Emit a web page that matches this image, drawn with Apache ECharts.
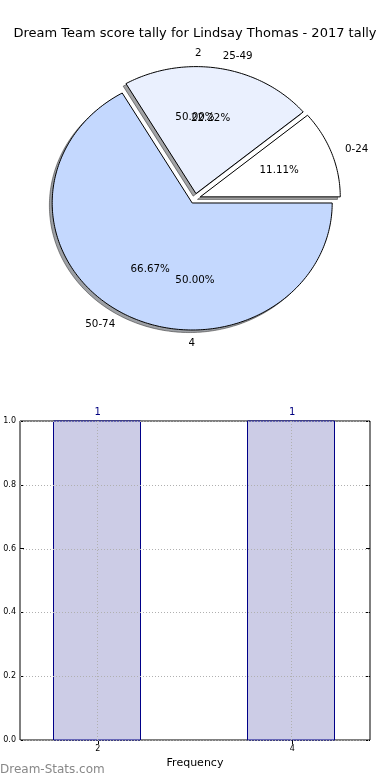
<!DOCTYPE html>
<html><head><meta charset="utf-8">
<script src="https://cdn.jsdelivr.net/npm/echarts@6/dist/echarts.min.js"></script>
<style>html,body{margin:0;padding:0;background:#fff}#c{width:390px;height:780px}</style>
</head><body><div id="c"></div>
<script>
const chartTitle = 'Dream Team score tally for Lindsay Thomas - 2017 tally';
const pieLabels = ['0-24', '25-49', '50-74'];
const pieValues = [1, 2, 6];
const pieColors = ['#ffffff', '#eaf0fe', '#c4d8fe'];
const freqLabels = ['2', '4'];
const freqValues = [1, 1];
const barX = [2, 4];
const barY = [1, 1];
const yTicks = [0.0, 0.2, 0.4, 0.6, 0.8, 1.0];
const xAxisName = 'Frequency';
const watermark = 'Dream-Stats.com';

const FONT = 'DejaVu Sans';
const EXPLODE = 0.04;

function wedgeGeom(values, i) {
  const total = values.reduce((a, b) => a + b, 0);
  let s = 0; for (let k = 0; k < i; k++) s += values[k];
  const t1 = s / total * 2 * Math.PI, t2 = (s + values[i]) / total * 2 * Math.PI;
  const mid = (t1 + t2) / 2;
  return { t1, t2, mid, cx: EXPLODE * Math.cos(mid), cy: EXPLODE * Math.sin(mid), frac: values[i] / total };
}
function wedgePoints(api, g, ox, oy) {
  const pts = [api.coord([g.cx + ox, g.cy + oy])];
  const n = Math.max(2, Math.ceil((g.t2 - g.t1) / (Math.PI / 180)));
  for (let k = 0; k <= n; k++) {
    const t = g.t1 + (g.t2 - g.t1) * k / n;
    pts.push(api.coord([g.cx + ox + Math.cos(t), g.cy + oy + Math.sin(t)]));
  }
  return pts;
}
function shadowColor(hex) {
  const r = parseInt(hex.slice(1, 3), 16), g = parseInt(hex.slice(3, 5), 16), b = parseInt(hex.slice(5, 7), 16);
  return 'rgba(' + Math.round(r * 0.3) + ',' + Math.round(g * 0.3) + ',' + Math.round(b * 0.3) + ',0.5)';
}
function pieTexts(values, labels, api, i) {
  const g = wedgeGeom(values, i);
  const lx = g.cx + 1.1 * Math.cos(g.mid), ly = g.cy + 1.1 * Math.sin(g.mid);
  const px = g.cx + 0.6 * Math.cos(g.mid), py = g.cy + 0.6 * Math.sin(g.mid);
  const lp = api.coord([lx, ly]), pp = api.coord([px, py]);
  return [
    { type: 'text', x: lp[0], y: lp[1], style: { text: labels[i], fill: '#000', fontSize: 10.3, fontFamily: FONT, align: lx > 0 ? 'left' : 'right', verticalAlign: 'middle' } },
    { type: 'text', x: pp[0], y: pp[1], style: { text: (g.frac * 100).toFixed(2) + '%', fill: '#000', fontSize: 10.3, fontFamily: FONT, align: 'center', verticalAlign: 'middle' } }
  ];
}

const chart = echarts.init(document.getElementById('c'), null, { renderer: 'canvas' });
const dotted = { stroke: '#b0b0b0', lineWidth: 1, lineDash: [1, 2] };

chart.setOption({
  animation: false,
  backgroundColor: '#fff',
  title: { text: chartTitle, left: 'center', top: 22, textStyle: { fontSize: 13, fontWeight: 'normal', color: '#000', fontFamily: FONT } },
  graphic: [{ type: 'text', left: 0, top: 764, style: { text: watermark, fill: '#888888', fontSize: 12, fontWeight: 'normal', fontFamily: FONT } }],
  grid: [
    { left: 20, top: 421, width: 350, height: 319, show: true, borderColor: '#000', borderWidth: 1, backgroundColor: 'transparent' },
    { left: 6, top: 20.8, width: 378, height: 355.6, show: false }
  ],
  xAxis: [
    { gridIndex: 0, type: 'value', min: 1.2, max: 4.8,
      axisLine: { show: false },
      axisTick: { show: true, inside: true, length: 4, customValues: barX, lineStyle: { color: '#000' } },
      axisLabel: { customValues: barX, fontSize: 8, color: '#000', margin: 5, fontFamily: FONT },
      splitLine: { show: false },
      name: xAxisName, nameLocation: 'middle', nameGap: 18, nameTextStyle: { fontSize: 11, fontFamily: FONT, color: '#000' } },
    { gridIndex: 0, type: 'value', position: 'top', min: 1.2, max: 4.8,
      axisLine: { show: false },
      axisTick: { show: true, inside: true, length: 4, customValues: barX, lineStyle: { color: '#000' } },
      axisLabel: { show: false }, splitLine: { show: false } },
    { gridIndex: 1, type: 'value', min: -1.35, max: 1.35, show: false }
  ],
  yAxis: [
    { gridIndex: 0, type: 'value', min: 0, max: 1, interval: 0.2,
      axisLine: { show: false },
      axisTick: { show: true, inside: true, length: 4, lineStyle: { color: '#000' } },
      axisLabel: { formatter: v => v.toFixed(1), fontSize: 8, color: '#000', margin: 4, fontFamily: FONT },
      splitLine: { show: false } },
    { gridIndex: 0, type: 'value', position: 'right', min: 0, max: 1, interval: 0.2,
      axisLine: { show: false },
      axisTick: { show: true, inside: true, length: 4, lineStyle: { color: '#000' } },
      axisLabel: { show: false }, splitLine: { show: false } },
    { gridIndex: 1, type: 'value', min: -1.4, max: 1.4, show: false }
  ],
  series: [
    { type: 'custom', xAxisIndex: 2, yAxisIndex: 2, z: 1, silent: true,
      data: pieValues.map((v, i) => [i, v]),
      renderItem: (params, api) => {
        const i = params.dataIndex, g = wedgeGeom(pieValues, i);
        return { type: 'polygon', shape: { points: wedgePoints(api, g, -0.02, -0.02) }, style: { fill: shadowColor(pieColors[i]), stroke: 'rgba(40,40,40,0.5)', lineWidth: 1 } };
      } },
    { type: 'custom', xAxisIndex: 2, yAxisIndex: 2, z: 2, silent: true,
      data: pieValues.map((v, i) => [i, v]),
      renderItem: (params, api) => {
        const i = params.dataIndex, g = wedgeGeom(pieValues, i);
        return { type: 'polygon', shape: { points: wedgePoints(api, g, 0, 0) }, style: { fill: pieColors[i], stroke: '#000', lineWidth: 1 } };
      } },
    { type: 'custom', xAxisIndex: 2, yAxisIndex: 2, z: 3, silent: true,
      data: pieValues.map((v, i) => [i, v]),
      renderItem: (params, api) => ({ type: 'group', children: pieTexts(pieValues, pieLabels, api, params.dataIndex) }) },
    { type: 'custom', xAxisIndex: 2, yAxisIndex: 2, z: 4, silent: true,
      data: freqValues.map((v, i) => [i, v]),
      renderItem: (params, api) => ({ type: 'group', children: pieTexts(freqValues, freqLabels, api, params.dataIndex) }) },
    { type: 'custom', xAxisIndex: 0, yAxisIndex: 0, z: 2, silent: true,
      data: barX.map((x, i) => [x, barY[i]]),
      renderItem: (params, api) => {
        const x = api.value(0), y = api.value(1);
        const p0 = api.coord([x - 0.45, 0]), p1 = api.coord([x + 0.45, y]);
        const top = api.coord([x, y]);
        return { type: 'group', children: [
          { type: 'rect', shape: { x: Math.round(p0[0]) - 0.5, y: p1[1], width: Math.round(p1[0] - p0[0]) - 1, height: p0[1] - p1[1] }, style: { fill: '#ccccE6', stroke: '#000088', lineWidth: 1 } },
          { type: 'text', x: top[0], y: top[1] - 9, style: { text: String(y), fill: '#000080', fontSize: 10, fontFamily: FONT, align: 'center', verticalAlign: 'middle' } }
        ] };
      } },
    { type: 'custom', xAxisIndex: 0, yAxisIndex: 0, z: 5, silent: true,
      data: barX.map(x => [x]),
      renderItem: (params, api) => {
        const a = api.coord([api.value(0), 0]), b = api.coord([api.value(0), 1]);
        const x = Math.round(a[0]) - 0.5;
        return { type: 'line', shape: { x1: x, y1: a[1], x2: x, y2: b[1] }, style: dotted };
      } },
    { type: 'custom', xAxisIndex: 0, yAxisIndex: 0, z: 5, silent: true,
      data: yTicks.map(y => [1.2, y]),
      renderItem: (params, api) => {
        const y = api.value(1);
        const a = api.coord([1.2, y]), b = api.coord([4.8, y]);
        const yy = Math.round(a[1]) + 0.5;
        return { type: 'line', shape: { x1: a[0], y1: yy, x2: b[0], y2: yy }, style: dotted };
      } }
  ]
});
</script>
</body></html>
